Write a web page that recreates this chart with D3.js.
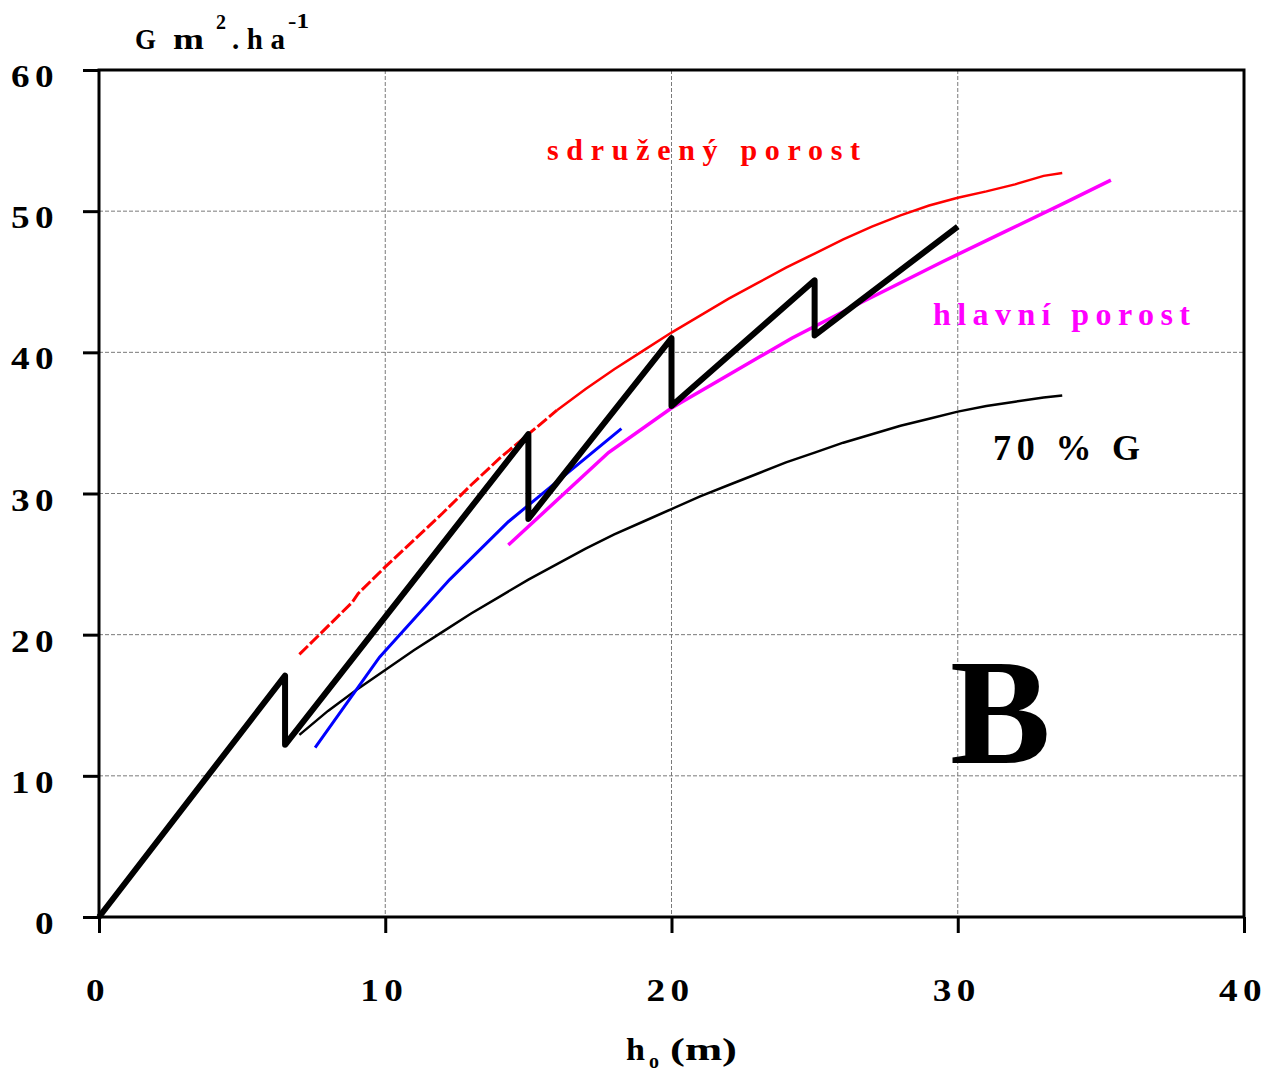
<!DOCTYPE html>
<html>
<head>
<meta charset="utf-8">
<script src="https://cdn.jsdelivr.net/npm/d3@7"></script>
<style>
  html, body { margin: 0; padding: 0; background: #fff; }
  svg { display: block; }
  text { font-family: "Liberation Serif", "Times New Roman", serif; font-weight: bold; }
</style>
</head>
<body>
<svg id="chart" width="1268" height="1073"></svg>
<script>
// Axis ticks
const xTicks = [0, 10, 20, 30, 40];
const yTicks = [0, 10, 20, 30, 40, 50, 60];

// Basal area model: thinning zig-zag (h_o, G)
const zigzagH = [0, 6.5, 6.5, 15, 15, 20, 20, 25, 25, 30];
const zigzagG = [0, 17.1, 12.2, 34.2, 28.2, 41.0, 36.2, 45.1, 41.2, 48.9];

// sdružený porost (combined stand)
const totalH = [7.0, 8.85, 9.05, 10, 11, 12, 13, 14, 15, 16, 17, 18, 19, 20, 21, 22, 23, 24, 25, 26, 27, 28, 29, 30, 31, 32, 33, 33.65];
const totalG = [18.6, 22.3, 22.9, 24.8, 26.7, 28.6, 30.6, 32.5, 34.2, 35.9, 37.4, 38.8, 40.1, 41.4, 42.6, 43.8, 44.9, 46.0, 47.0, 48.0, 48.9, 49.7, 50.4, 50.95, 51.4, 51.9, 52.5, 52.7];

// hlavní porost (main stand)
const mainH = [14.3, 17.8, 20, 21.4, 24.2, 26.4, 29.45, 31.65, 33.7, 35.35];
const mainG = [26.35, 32.9, 36.05, 37.7, 41.0, 43.3, 46.4, 48.55, 50.55, 52.2];

// young stand segment (blue)
const youngH = [7.55, 9.8, 12.25, 14.3, 18.25];
const youngG = [12.0, 18.4, 23.9, 28.0, 34.6];

// 70 % G of the combined stand
const lowH = [7.0, 8, 9, 10, 11, 12, 13, 14, 15, 16, 17, 18, 19, 20, 21, 22, 23, 24, 25, 26, 27, 28, 29, 30, 31, 32, 33, 33.65];
const lowG = [12.9, 14.6, 16.1, 17.5, 18.9, 20.2, 21.5, 22.7, 23.9, 25.0, 26.1, 27.1, 28.0, 28.9, 29.8, 30.6, 31.4, 32.2, 32.9, 33.6, 34.2, 34.8, 35.3, 35.8, 36.2, 36.5, 36.8, 36.95];

const svg = d3.select("#chart");
const plotLeft = 99, plotRight = 1244, plotTop = 70, plotBottom = 917;

const x = d3.scaleLinear().domain([0, 40]).range([plotLeft, plotRight]);
const y = d3.scaleLinear().domain([0, 60]).range([plotBottom, plotTop]);

// dashed grid
const grid = svg.append("g").attr("stroke", "#7a7a7a").attr("stroke-width", 1).attr("stroke-dasharray", "4,2");
grid.selectAll("line.v").data(xTicks.filter(d => d > 0 && d < 40)).join("line").attr("class", "v")
  .attr("x1", d => x(d)).attr("x2", d => x(d)).attr("y1", plotTop).attr("y2", plotBottom);
grid.selectAll("line.h").data(yTicks.filter(d => d > 0 && d < 60)).join("line").attr("class", "h")
  .attr("x1", plotLeft).attr("x2", plotRight).attr("y1", d => y(d)).attr("y2", d => y(d));

// frame
svg.append("rect").attr("x", plotLeft).attr("y", plotTop)
  .attr("width", plotRight - plotLeft).attr("height", plotBottom - plotTop)
  .attr("fill", "none").attr("stroke", "#000").attr("stroke-width", 3);

// axes with outward ticks
const yAxis = d3.axisLeft(y).tickValues(yTicks).tickSize(16).tickFormat("");
const xAxis = d3.axisBottom(x).tickValues(xTicks).tickSize(16).tickFormat("");
svg.append("g").attr("transform", `translate(${plotLeft},0)`).call(yAxis)
  .call(g => g.select(".domain").remove())
  .selectAll("line").attr("stroke", "#000").attr("stroke-width", 3);
svg.append("g").attr("transform", `translate(0,${plotBottom})`).call(xAxis)
  .call(g => g.select(".domain").remove())
  .selectAll("line").attr("stroke", "#000").attr("stroke-width", 3);

// tick labels: wide bold digits with tracking
svg.append("g").selectAll("text").data(yTicks).join("text")
  .attr("transform", d => `translate(59,${y(d) + 17}) scale(1.2,1)`)
  .attr("text-anchor", "end").attr("font-size", 31).attr("letter-spacing", 4.5)
  .text(d => d);
svg.append("g").selectAll("text").data(xTicks).join("text")
  .attr("transform", d => `translate(${x(d) - 1},1001) scale(1.2,1)`)
  .attr("text-anchor", "middle").attr("font-size", 31).attr("letter-spacing", 4.5)
  .text(d => d);

// line generator
const line = d3.line().x(d => x(d[0])).y(d => y(d[1]));
const zip = (a, b) => a.map((v, i) => [v, b[i]]);

// 70 % G
svg.append("path").datum(zip(lowH, lowG)).attr("d", line)
  .attr("fill", "none").attr("stroke", "#000").attr("stroke-width", 2.5);

// combined stand: dashed in the young part, solid afterwards
const total = zip(totalH, totalG);
svg.append("path").datum(total.filter(d => d[0] <= 16)).attr("d", line)
  .attr("fill", "none").attr("stroke", "#ff0000").attr("stroke-width", 3).attr("stroke-dasharray", "12,3");
svg.append("path").datum(total.filter(d => d[0] >= 16)).attr("d", line)
  .attr("fill", "none").attr("stroke", "#ff0000").attr("stroke-width", 2.5);

// young stand
svg.append("path").datum(zip(youngH, youngG)).attr("d", line)
  .attr("fill", "none").attr("stroke", "#0000ff").attr("stroke-width", 3);

// main stand
svg.append("path").datum(zip(mainH, mainG)).attr("d", line)
  .attr("fill", "none").attr("stroke", "#ff00ff").attr("stroke-width", 3.5);

// thinning zig-zag
svg.append("path").datum(zip(zigzagH, zigzagG)).attr("d", line)
  .attr("fill", "none").attr("stroke", "#000").attr("stroke-width", 6)
  .attr("stroke-linejoin", "round").attr("stroke-linecap", "butt");

// labels
svg.append("text").attr("x", 547).attr("y", 160).attr("font-size", 30).attr("fill", "#ff0000")
  .attr("textLength", 313).attr("lengthAdjust", "spacing").text("sdružený porost");
svg.append("text").attr("x", 933).attr("y", 325).attr("font-size", 32).attr("fill", "#ff00ff")
  .attr("textLength", 257).attr("lengthAdjust", "spacing").text("hlavní porost");
svg.append("text").attr("x", 993).attr("y", 460).attr("font-size", 36).attr("fill", "#000")
  .attr("textLength", 147).attr("lengthAdjust", "spacing").text("70 % G");
svg.append("text").attr("x", 950).attr("y", 763).attr("font-size", 151).attr("fill", "#000").text("B");

// y axis title: G m².ha⁻¹
const yt = svg.append("g").attr("fill", "#000");
yt.append("text").attr("x", 135).attr("y", 49).attr("font-size", 29)
  .attr("textLength", 21).attr("lengthAdjust", "spacingAndGlyphs").text("G");
yt.append("text").attr("x", 173).attr("y", 49).attr("font-size", 29)
  .attr("textLength", 31).attr("lengthAdjust", "spacingAndGlyphs").text("m");
yt.append("text").attr("x", 216).attr("y", 29).attr("font-size", 20).text("2");
yt.append("text").attr("x", 232).attr("y", 49).attr("font-size", 29)
  .attr("textLength", 53).attr("lengthAdjust", "spacing").text(".ha");
yt.append("text").attr("x", 288).attr("y", 28).attr("font-size", 20)
  .attr("textLength", 21).attr("lengthAdjust", "spacingAndGlyphs").text("-1");

// x axis title: h_o (m)
const xt = svg.append("g").attr("fill", "#000");
xt.append("text").attr("x", 626).attr("y", 1060).attr("font-size", 31)
  .attr("textLength", 19).attr("lengthAdjust", "spacingAndGlyphs").text("h");
xt.append("text").attr("x", 649).attr("y", 1068).attr("font-size", 20).text("o");
xt.append("text").attr("x", 670).attr("y", 1060).attr("font-size", 31)
  .attr("textLength", 67).attr("lengthAdjust", "spacingAndGlyphs").text("(m)");
</script>
</body>
</html>
